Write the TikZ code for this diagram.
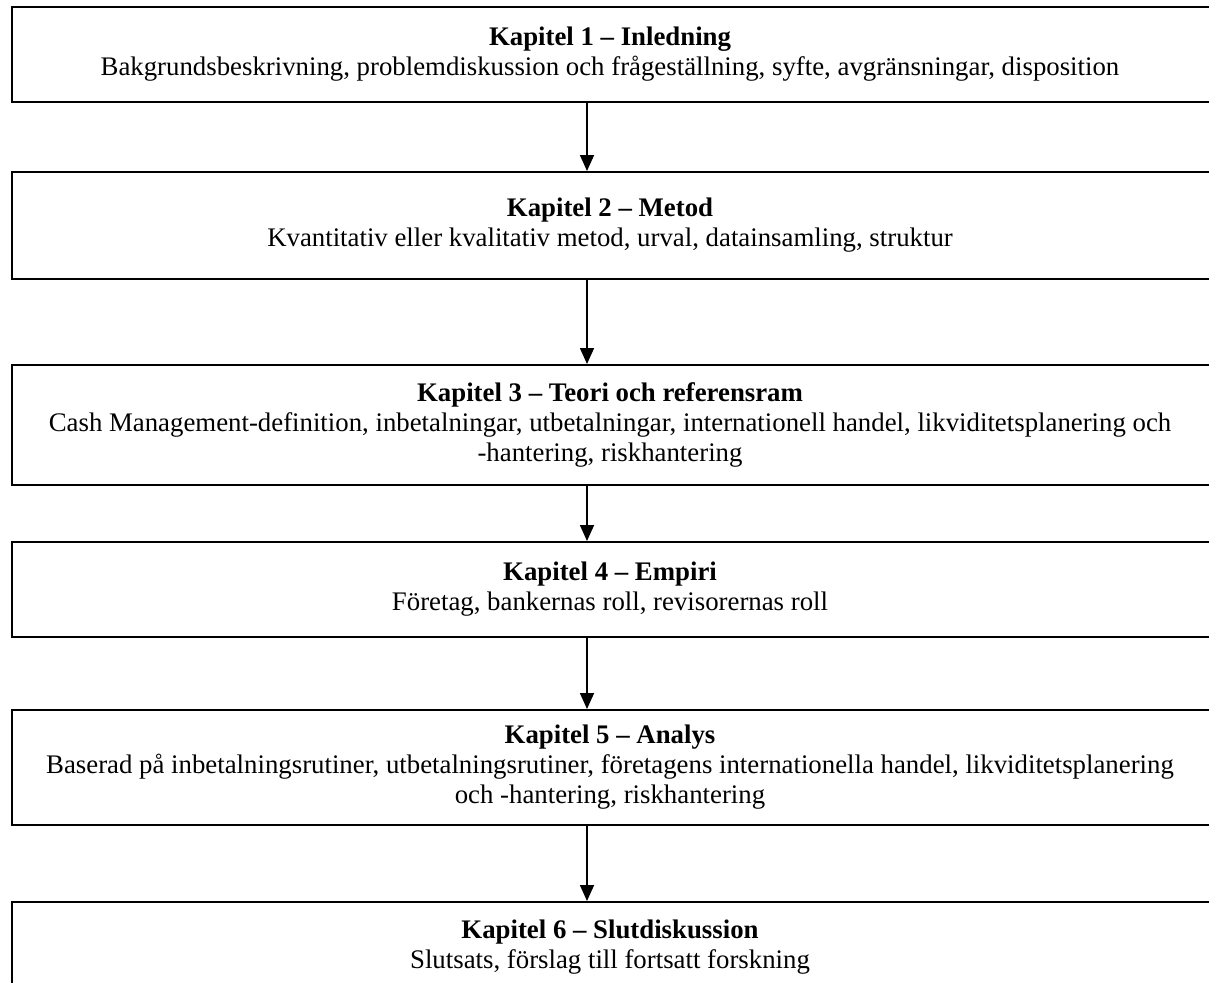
\documentclass[tikz,border=0pt]{standalone}
\usepackage{fontspec}
\setmainfont{Liberation Serif}
\usetikzlibrary{arrows.meta}
\tikzset{
  chapbox/.style={draw=black, line width=2pt, anchor=north west, minimum width=1206pt, inner sep=0pt},
  chaptext/.style={anchor=center, align=center, inner sep=0pt, font=\fontsize{26.8}{30}\selectfont},
  flowarrow/.style={line width=1.6pt, -{Triangle[length=16pt,width=14pt]}}
}
\begin{document}
\begin{tikzpicture}[x=1pt,y=-1pt]
\useasboundingbox (0,0) rectangle (1209,982);
\clip (0,0) rectangle (1209,982);
\coordinate (ax) at (587,0);
\coordinate (tx) at (610,0);
\node[chapbox, minimum height=95pt] (b1) at (11,6) {};
\node[chapbox, minimum height=107pt] (b2) at (11,171) {};
\node[chapbox, minimum height=120pt] (b3) at (11,364) {};
\node[chapbox, minimum height=95pt] (b4) at (11,541) {};
\node[chapbox, minimum height=115pt] (b5) at (11,709) {};
\node[chapbox, minimum height=90pt] (b6) at (11,901) {};

\node[chaptext] (t1) at (b1.center -| tx) {\textbf{Kapitel 1 – Inledning}\\Bakgrundsbeskrivning, problemdiskussion och frågeställning, syfte, avgränsningar, disposition};
\node[chaptext] (t2) at (b2.center -| tx) {\textbf{Kapitel 2 – Metod}\\Kvantitativ eller kvalitativ metod, urval, datainsamling, struktur};
\node[chaptext] (t3) at (b3.center -| tx) {\textbf{Kapitel 3 – Teori och referensram}\\Cash Management-definition, inbetalningar, utbetalningar, internationell handel, likviditetsplanering och\\-hantering, riskhantering};
\node[chaptext] (t4) at (b4.center -| tx) {\textbf{Kapitel 4 – Empiri}\\Företag, bankernas roll, revisorernas roll};
\node[chaptext] (t5) at (b5.center -| tx) {\textbf{Kapitel 5 – Analys}\\Baserad på inbetalningsrutiner, utbetalningsrutiner, företagens internationella handel, likviditetsplanering\\och -hantering, riskhantering};
\node[chaptext] (t6) at (b6.center -| tx) {\textbf{Kapitel 6 – Slutdiskussion}\\Slutsats, förslag till fortsatt forskning};

\draw[flowarrow] (b1.south -| ax) -- (b2.north -| ax);
\draw[flowarrow] (b2.south -| ax) -- (b3.north -| ax);
\draw[flowarrow] (b3.south -| ax) -- (b4.north -| ax);
\draw[flowarrow] (b4.south -| ax) -- (b5.north -| ax);
\draw[flowarrow] (b5.south -| ax) -- (b6.north -| ax);
\end{tikzpicture}
\end{document}
